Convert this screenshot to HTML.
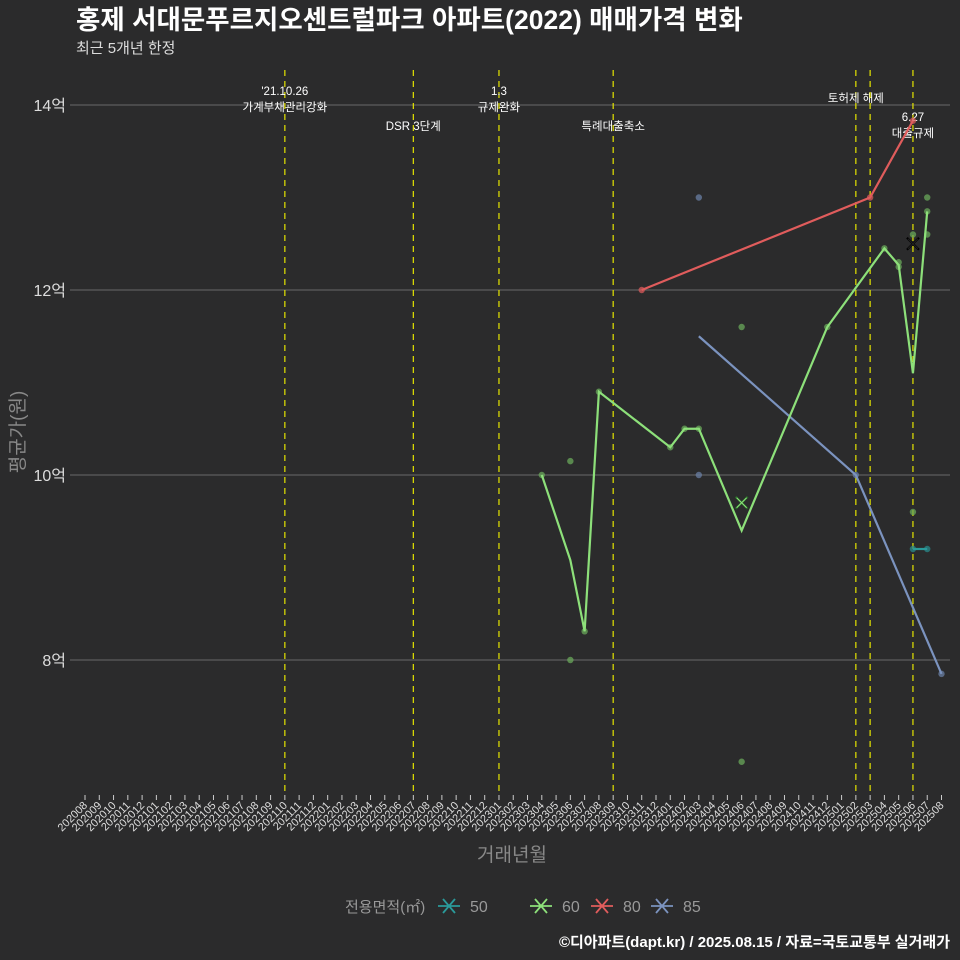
<!DOCTYPE html>
<html><head><meta charset="utf-8"><style>
body{margin:0;background:#2b2b2c;}
svg{display:block;font-family:"Liberation Sans","Noto Sans CJK KR",sans-serif;}
</style></head><body>
<svg id="c" width="960" height="960" viewBox="0 0 960 960">
<rect width="960" height="960" fill="#2b2b2c"/>
<text x="76" y="29" font-size="26.5" font-weight="bold" fill="#fff">홍제 서대문푸르지오센트럴파크 아파트(2022) 매매가격 변화</text>
<text x="76" y="53" font-size="15" fill="#ddd">최근 5개년 한정</text>
<g id="grid"></g><g id="events"></g><g id="marks"></g><g id="xaxis"></g><g id="yaxis"></g>
<text x="512" y="861" font-size="19" fill="#888" text-anchor="middle">거래년월</text>
<text transform="translate(24,432) rotate(-90)" font-size="19" fill="#888" text-anchor="middle">평균가(원)</text>
<g id="legend"></g>
<text x="950" y="947" font-size="15" font-weight="bold" fill="#fff" text-anchor="end">©디아파트(dapt.kr) / 2025.08.15 / 자료=국토교통부 실거래가</text>
</svg>
<script>
const months=[];for(let y=2020,m=8;y*100+m<=202508;){months.push(y*100+m);m++;if(m>12){m=1;y++;}}
const yTicks=[8,10,12,14];
const yTickLabels=["8억","10억","12억","14억"];
const s60Months=[202304,202306,202307,202308,202401,202402,202403,202406,202412,202504,202505,202506,202507];
const s60Values=[10.0,9.08,8.31,10.9,10.3,10.5,10.5,9.4,11.6,12.45,12.27,11.1,12.85];
const s60DotMonths=[202304,202306,202306,202307,202308,202401,202402,202403,202406,202406,202412,202504,202505,202505,202506,202506,202507,202507,202507];
const s60DotValues=[10.0,10.15,8.0,8.31,10.9,10.3,10.5,10.5,11.6,6.9,11.6,12.45,12.3,12.25,12.6,9.6,13.0,12.85,12.6];
const s80Months=[202311,202503,202506];
const s80Values=[12.0,13.0,13.83];
const s85Months=[202403,202502,202508];
const s85Values=[11.5,10.0,7.85];
const s85DotMonths=[202403,202403,202502,202508];
const s85DotValues=[13.0,10.0,10.0,7.85];
const s50Months=[202506,202507];
const s50Values=[9.2,9.2];
const xMarkMonths=[202406,202506];
const xMarkValues=[9.7,12.5];
const eventMonths=[202110,202207,202301,202309,202502,202503,202506];
const eventLabels=[["'21.10.26","가계부채관리강화"],["DSR 3단계"],["1.3","규제완화"],["특례대출축소"],["토허제 해제"],[],["6.27","대출규제"]];
const eventLabelY=[[95,111],[130],[95,111],[130],[102],[],[121,137]];

const NS="http://www.w3.org/2000/svg";
const x0=85,x1=941.5;
function X(m){const i=months.indexOf(m);return x0+(x1-x0)*i/(months.length-1);}
function Y(v){return 105+(14-v)*92.5;}
function mk(p,t,a,name){const e=document.createElementNS(NS,t);for(const k in a)e.setAttribute(k,a[k]);

document.getElementById(p).appendChild(e);return e;}
yTicks.forEach((v,i)=>{
 mk('grid','line',{x1:70,x2:950,y1:Y(v),y2:Y(v),stroke:'#6a6a6a','stroke-width':1},'gridline-'+v);
 const t=mk('yaxis','text',{x:66,y:Y(v)+6,'font-size':16,fill:'#ddd','text-anchor':'end'},'y-tick-label');t.textContent=yTickLabels[i];
});
eventMonths.forEach((m,i)=>{
 mk('events','line',{x1:X(m),x2:X(m),y1:70,y2:795,stroke:'#e5e500','stroke-width':1.2,'stroke-dasharray':'6,5'},'event-line');
 eventLabels[i].forEach((s,j)=>{const t=mk('events','text',{x:X(m),y:eventLabelY[i][j],'font-size':11.5,fill:'#fff','text-anchor':'middle'},'event-label');t.textContent=s;});
});
months.forEach(m=>{
 const x=X(m);
 mk('xaxis','line',{x1:x,x2:x,y1:795,y2:800,stroke:'#ccc'},'x-tick');
 const t=mk('xaxis','text',{x:0,y:0,'font-size':11,fill:'#ddd','text-anchor':'end',transform:`translate(${x+3},${806}) rotate(-45)`},'x-tick-label');t.textContent=m;
});
function line(ms,vs,col,name){mk('marks','polyline',{points:ms.map((m,i)=>X(m)+','+Y(vs[i])).join(' '),fill:'none',stroke:col,'stroke-width':2.2},name);}
function dots(ms,vs,col,name){ms.forEach((m,i)=>mk('marks','circle',{cx:X(m),cy:Y(vs[i]),r:3.2,fill:col,'fill-opacity':0.75},name));}
dots(s85DotMonths,s85DotValues,'#6a7fa3','dot-85');
dots(s60DotMonths,s60DotValues,'#6aa85a','dot-60');
dots(s80Months,s80Values,'#d85a5a','dot-80');
dots(s50Months,s50Values,'#2a8a8a','dot-50');
line(s85Months,s85Values,'#7b93bf','line-85');
line(s60Months,s60Values,'#8de07a','line-60');
line(s80Months,s80Values,'#e05c5c','line-80');
line(s50Months,s50Values,'#2a9a9a','line-50');
xMarkMonths.forEach((m,i)=>{const x=X(m),y=Y(xMarkValues[i]);
 mk('marks','path',{d:`M${x-6},${y-6}L${x+6},${y+6}M${x-6},${y+6}L${x+6},${y-6}`,stroke:i?'#000':'#2a6a2a','stroke-width':2.2},'x-marker');
 mk('marks','path',{d:`M${x-5},${y-5}L${x+5},${y+5}M${x-5},${y+5}L${x+5},${y-5}`,stroke:i?'#222':'#8de07a','stroke-width':1},'x-marker');});
const lt=mk('legend','text',{x:345,y:912,'font-size':15,fill:'#999'},'legend-title');lt.textContent='전용면적(㎡)';
const legKeys=['50','60','80','85'],legCols=['#2a9a9a','#8de07a','#e05c5c','#7b93bf'],legX=[438,530,591,651];
legKeys.forEach((k,i)=>{const x=legX[i];
 mk('legend','path',{d:`M${x},906H${x+22}M${x+5},899L${x+17},913M${x+5},913L${x+17},899`,stroke:legCols[i],'stroke-width':1.8},'legend-key-'+k);
 const t=mk('legend','text',{x:x+32,y:912,'font-size':16,fill:'#999'},'legend-label-'+k);t.textContent=k;});
</script>
</body></html>
